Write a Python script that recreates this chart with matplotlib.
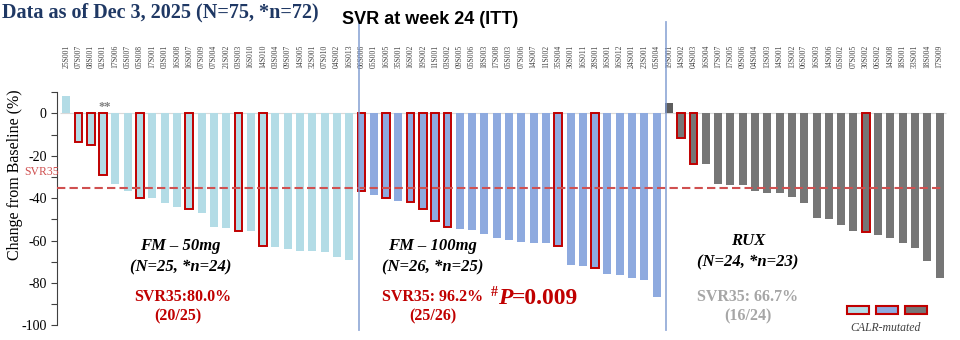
import numpy as np
import matplotlib.pyplot as plt
from matplotlib import transforms
from matplotlib.patches import Rectangle

plt.rcParams['font.family'] = ['Liberation Serif', 'DejaVu Serif']
plt.rcParams['axes.unicode_minus'] = False

# patient ids per arm (top labels)
ids_50 = ["25S001", "07S007", "08S001", "02S001", "17S006", "05S007", "05S008", "17S001",
          "03S001", "16S008", "16S007", "07S009", "07S004", "21S002", "03S003", "16S010",
          "14S010", "03S004", "09S007", "14S005", "32S001", "07S010", "04S002", "16S013"]
ids_100 = ["06S006", "05S001", "16S005", "35S001", "16S002", "19S002", "11S001", "03S002",
           "09S005", "05S006", "18S003", "17S008", "05S003", "07S006", "14S007", "11S002",
           "35S004", "30S001", "16S011", "28S001", "16S001", "16S012", "24S001", "23S001", "05S004"]
ids_rux = ["19S001", "14S002", "04S003", "16S004", "17S007", "17S005", "09S006", "04S004",
           "13S003", "14S001", "13S002", "06S007", "16S003", "14S006", "05S002", "07S005",
           "30S002", "06S002", "14S008", "18S001", "33S001", "18S004", "17S009"]

# % change in spleen volume at week 24
svr_50 = [8, -13.7, -14.7, -28.9, -33.2, -36.8, -40.0, -40.0, -42.4, -44.0, -45.0, -46.9,
          -53.4, -54.2, -55.6, -55.6, -62.7, -63.2, -64.0, -64.8, -65.1, -65.6, -68.0, -69.0]
svr_100 = [-36.7, -38.7, -39.8, -41.4, -41.9, -45.0, -50.9, -53.4, -54.5, -55.0, -56.9, -58.8,
           -59.6, -60.5, -61.3, -61.3, -62.4, -71.4, -71.9, -73.0, -75.8, -76.2, -77.7, -78.5, -86.6]
svr_rux = [4.7, -11.4, -24.0, -24.0, -33.2, -33.7, -34.0, -36.7, -37.5, -37.5, -39.5, -42.4,
           -49.3, -49.8, -52.5, -55.3, -56.1, -57.2, -59.0, -61.3, -63.5, -69.5, -77.7]

# CALR-mutated flags
calr_50 = [0, 1, 1, 1, 0, 0, 1, 0, 0, 0, 1, 0, 0, 0, 1, 0, 1, 0, 0, 0, 0, 0, 0, 0]
calr_100 = [1, 0, 1, 0, 1, 1, 1, 1, 0, 0, 0, 0, 0, 0, 0, 0, 1, 0, 0, 1, 0, 0, 0, 0, 0]
calr_rux = [0, 1, 1, 0, 0, 0, 0, 0, 0, 0, 0, 0, 0, 0, 0, 0, 1, 0, 0, 0, 0, 0, 0]

c50, c100, crux = "#b3dce6", "#8eaadf", "#767676"
red = "#c00000"

ids = ids_50 + ids_100 + ids_rux
vals = svr_50 + svr_100 + svr_rux
calr = calr_50 + calr_100 + calr_rux
cols = [c50] * len(svr_50) + [c100] * len(svr_100) + [crux] * len(svr_rux)
cols[len(svr_50) + len(svr_100)] = "#5e5e5e"  # 19S001
x = np.arange(len(vals))

fig = plt.figure(figsize=(9.6, 3.4), dpi=100)
ax = fig.add_axes([0.0594, 0.0432, 0.9289, 0.6856])

ax.hlines(0, -0.5, x[-1] + 0.5, colors="#d9d9d9", lw=0.8, zorder=1)
for xi, v, c, m in zip(x, vals, cols, calr):
    if m:
        ax.bar(xi, v, width=0.62, color=c, edgecolor=red, linewidth=1.4, zorder=3)
    else:
        ax.bar(xi, v, width=0.65, color=c, linewidth=0, zorder=2)

ax.hlines(-35, -0.75, x[-1] + 0.2, colors="#d05050", linestyles=(0, (4, 2)), lw=1.5, zorder=4)
ax.text(-0.55, -27.8, "SVR35", color="#d05050", fontsize=8.5, ha="right", va="center")
ax.text(3.1, 3.2, "**", color="#808080", fontsize=9, weight="bold", ha="center", va="center")

ax.set_xlim(-0.75, 71.75)
ax.set_ylim(-100, 10)
ax.set_yticks(np.arange(-100, 1, 20))
ax.set_yticks(np.arange(-100, 11, 10), minor=True)
ax.tick_params(axis="y", which="both", length=4, width=0.8, labelsize=10, colors="#404040")
ax.tick_params(axis="y", labelcolor="black")
ax.set_xticks([])
for s in ["top", "right", "bottom"]:
    ax.spines[s].set_visible(False)
ax.spines["left"].set_color("#404040")

# patient ids along the top
tr = transforms.blended_transform_factory(ax.transData, fig.transFigure)
for xi, lab in zip(x, ids):
    ax.text(xi, 0.80, lab, transform=tr, rotation=90, fontsize=5.5, color="#404040",
            ha="center", va="bottom", clip_on=False)

# arm dividers
for xd in [len(svr_50) - 0.2, len(svr_50) + len(svr_100) - 0.2]:
    ax.plot([xd, xd], [0.03, 0.935], transform=tr, color="#7d99d0", lw=1.3, alpha=0.8,
            clip_on=False, zorder=5)

# arm annotations
bi = dict(fontsize=12, weight="bold", style="italic", ha="center", va="center")
ax.text(9.3, -62.4, "FM – 50mg", **bi)
ax.text(9.3, -72.7, "(N=25, *n=24)", **bi)
ax.text(29.8, -62.4, "FM – 100mg", **bi)
ax.text(29.8, -72.7, "(N=26, *n=25)", **bi)
ax.text(55.4, -60.0, "RUX", **bi)
ax.text(55.4, -70.5, "(N=24, *n=23)", **bi)

bd = dict(fontsize=11.5, weight="bold", ha="center", va="center")
ax.text(9.5, -86.6, "SVR35:80.0%", color=red, **bd)
ax.text(9.1, -96.0, "(20/25)", color=red, **bd)
ax.text(29.8, -86.6, "SVR35: 96.2%", color=red, **bd)
ax.text(29.8, -96.0, "(25/26)", color=red, **bd)
ax.text(55.4, -86.6, "SVR35: 66.7%", color="#a6a6a6", **bd)
ax.text(55.4, -96.0, "(16/24)", color="#a6a6a6", **bd)

fig.canvas.draw()
r = fig.canvas.get_renderer()
t1 = ax.text(34.5, -84.5, "#", color=red, fontsize=10, weight="bold", ha="left", va="center")
e = t1.get_window_extent(r)
t2 = fig.text(e.x1 / 960, 1 - 298 / 340, "P", color=red, fontsize=17, weight="bold",
              style="italic", ha="left", va="center")
e = t2.get_window_extent(r)
fig.text(e.x1 / 960, 1 - 298 / 340, "=0.009", color=red, fontsize=17, weight="bold",
         ha="left", va="center")

# CALR legend
for x0, c in zip([847, 876, 905], [c50, c100, crux]):
    fig.patches.append(Rectangle((x0 / 960, 1 - 314 / 340), 22 / 960, 8 / 340, transform=fig.transFigure,
                                 facecolor=c, edgecolor=red, lw=1.5))
fig.text(886 / 960, 1 - 328 / 340, "CALR-mutated", style="italic", fontsize=8.5,
         color="#404040", ha="center", va="center")

fig.text(0.016, 1 - 175 / 340, "Change from Baseline (%)", rotation=90, fontsize=11.5,
         ha="center", va="center")
fig.text(430 / 960, 1 - 20 / 340, "SVR at week 24 (ITT)", fontsize=13, weight="bold",
         family=["Liberation Sans", "DejaVu Sans"], ha="center", va="center")
fig.text(2 / 960, 1 - 12 / 340, "Data as of Dec 3, 2025 (N=75, *n=72)", fontsize=14.5,
         weight="bold", color="#1f3864", ha="left", va="center")

fig.savefig("out.png", dpi=100)
